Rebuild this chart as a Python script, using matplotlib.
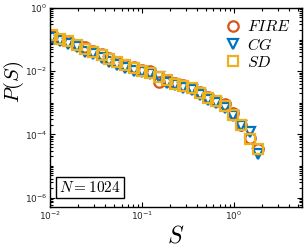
import numpy as np
import matplotlib
matplotlib.use('Agg')
import matplotlib.pyplot as plt
from matplotlib.ticker import LogLocator, NullFormatter

plt.rcParams['mathtext.fontset'] = 'cm'
plt.rcParams['font.family'] = 'DejaVu Sans'

# avalanche sizes (log10 S) and log10 P(S)
logS = [-1.98, -1.89, -1.80, -1.71, -1.62, -1.53, -1.44, -1.36, -1.27, -1.18,
        -1.09, -1.00, -0.91, -0.82, -0.73, -0.64, -0.55, -0.46, -0.37, -0.28,
        -0.19, -0.10, -0.01, 0.08, 0.17, 0.26]
logP_fire = [-0.88, -0.97, -1.04, -1.16, -1.24, -1.37, -1.46, -1.59, -1.70, -1.79,
             -1.86, -1.96, -2.00, -2.34, -2.30, -2.38, -2.45, -2.53, -2.66, -2.81,
             -2.93, -3.05, -3.32, -3.69, -4.12, -4.45]
logP_cg = [-0.95, -1.06, -1.14, -1.25, -1.38, -1.47, -1.58, -1.71, -1.80, -1.90,
           -1.98, -2.04, -2.10, -2.20, -2.36, -2.44, -2.52, -2.60, -2.76, -2.92,
           -3.02, -3.16, -3.42, -3.75, -3.92, -4.62]
logP_sd = [-0.87, -0.99, -1.06, -1.17, -1.30, -1.38, -1.48, -1.62, -1.72, -1.80,
           -1.90, -1.98, -2.06, -2.19, -2.29, -2.40, -2.46, -2.53, -2.69, -2.85,
           -2.95, -3.11, -3.38, -3.69, -4.16, -4.46]

S = 10.0 ** np.array(logS)

fig = plt.figure(figsize=(3.05, 2.48), dpi=100)
ax = fig.add_axes([0.164, 0.165, 0.826, 0.803])

ax.plot(S, 10.0 ** np.array(logP_fire), 'o', mfc='none', mec='#D95319', mew=1.6, ms=7.5, label='$FIRE$')
ax.plot(S, 10.0 ** np.array(logP_cg), 'v', mfc='none', mec='#0072BD', mew=1.6, ms=7.5, label='$CG$')
ax.plot(S, 10.0 ** np.array(logP_sd), 's', mfc='none', mec='#EDB120', mew=1.6, ms=7.5, label='$SD$')

ax.set_xscale('log')
ax.set_yscale('log')
ax.set_xlim(1e-2, 5.5)
ax.set_ylim(5e-7, 1)

ax.set_xticks([1e-2, 1e-1, 1e0])
ax.set_yticks([1e-6, 1e-4, 1e-2, 1e0])
ax.xaxis.set_minor_locator(LogLocator(base=10, subs=np.arange(2, 10)))
ax.yaxis.set_minor_locator(LogLocator(base=10, subs=np.arange(1, 10), numticks=20))
ax.yaxis.set_minor_formatter(NullFormatter())
ax.xaxis.set_minor_formatter(NullFormatter())
ax.tick_params(which='both', direction='in', top=True, right=True, labelsize=6.5,
               labelcolor='#262626', width=0.8, pad=2)
ax.tick_params(which='major', length=3.5)
ax.tick_params(which='minor', length=2)
for sp in ax.spines.values():
    sp.set_linewidth(1.0)

ax.set_xlabel('$S$', fontsize=17, labelpad=1)
ax.set_ylabel('$P(S)$', fontsize=15)
ax.yaxis.set_label_coords(-0.095, 0.63)

ax.legend(loc='upper right', frameon=False, fontsize=11.5, handletextpad=0.3,
          borderaxespad=0.3, labelspacing=0.15, handlelength=1.2)

ax.text(0.035, 0.1, '$N = 1024$', transform=ax.transAxes, fontsize=11,
        va='center', ha='left',
        bbox=dict(boxstyle='square,pad=0.2', fc='white', ec='black', lw=1))

fig.savefig('out.png', dpi=100)
